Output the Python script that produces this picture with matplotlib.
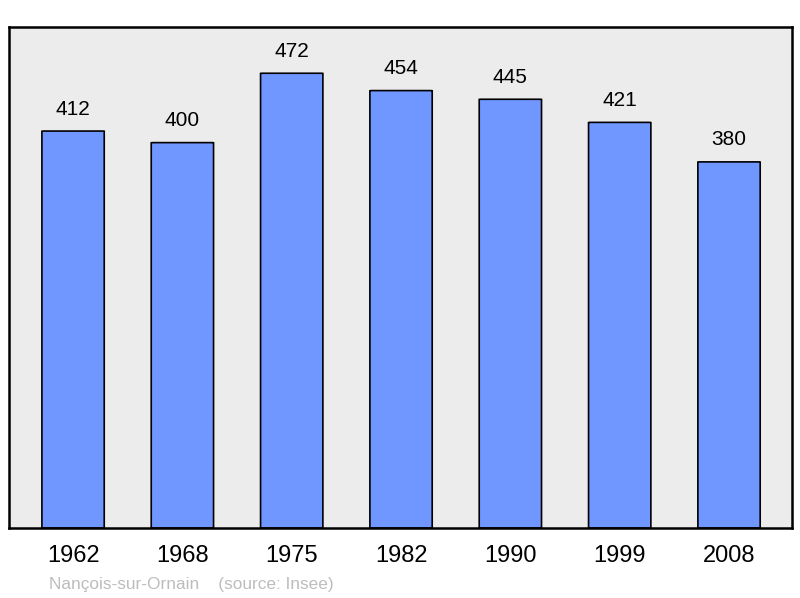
import matplotlib.pyplot as plt
from matplotlib.patches import FancyBboxPatch

plt.rcParams['font.family'] = ['Liberation Sans', 'DejaVu Sans']

years = ["1962", "1968", "1975", "1982", "1990", "1999", "2008"]
population = [412, 400, 472, 454, 445, 421, 380]

fig = plt.figure(figsize=(8, 5.98), dpi=100)
ax = fig.add_axes([9 / 800, 70 / 598, 783 / 800, 501 / 598])
ax.set_facecolor('#ececec')

x = range(len(years))
width = 0.57
for xi, v in zip(x, population):
    bar = FancyBboxPatch((xi - width / 2, 0), width, v,
                         boxstyle="round,pad=0,rounding_size=0.02",
                         mutation_aspect=9,
                         facecolor='#7097ff', edgecolor='black', linewidth=1.2)
    ax.add_patch(bar)
    ax.annotate(str(v), (xi, v), xytext=(0, 9), textcoords='offset points',
                ha='center', va='bottom', fontsize=15)

ax.set_xlim(-0.586, 6.576)
ax.set_ylim(0, 520)
ax.set_xticks(list(x))
ax.set_xticklabels(years, fontsize=17)
ax.set_yticks([])
ax.tick_params(axis='x', length=0, pad=12)
for s in ax.spines.values():
    s.set_linewidth(1.8)
    s.set_color('black')

fig.text(49 / 800, 1 - 584 / 598, "Nançois-sur-Ornain    (source: Insee)",
         color='#bdbdbd', fontsize=12.4, va='center', ha='left')

fig.savefig("out.png", dpi=100)
